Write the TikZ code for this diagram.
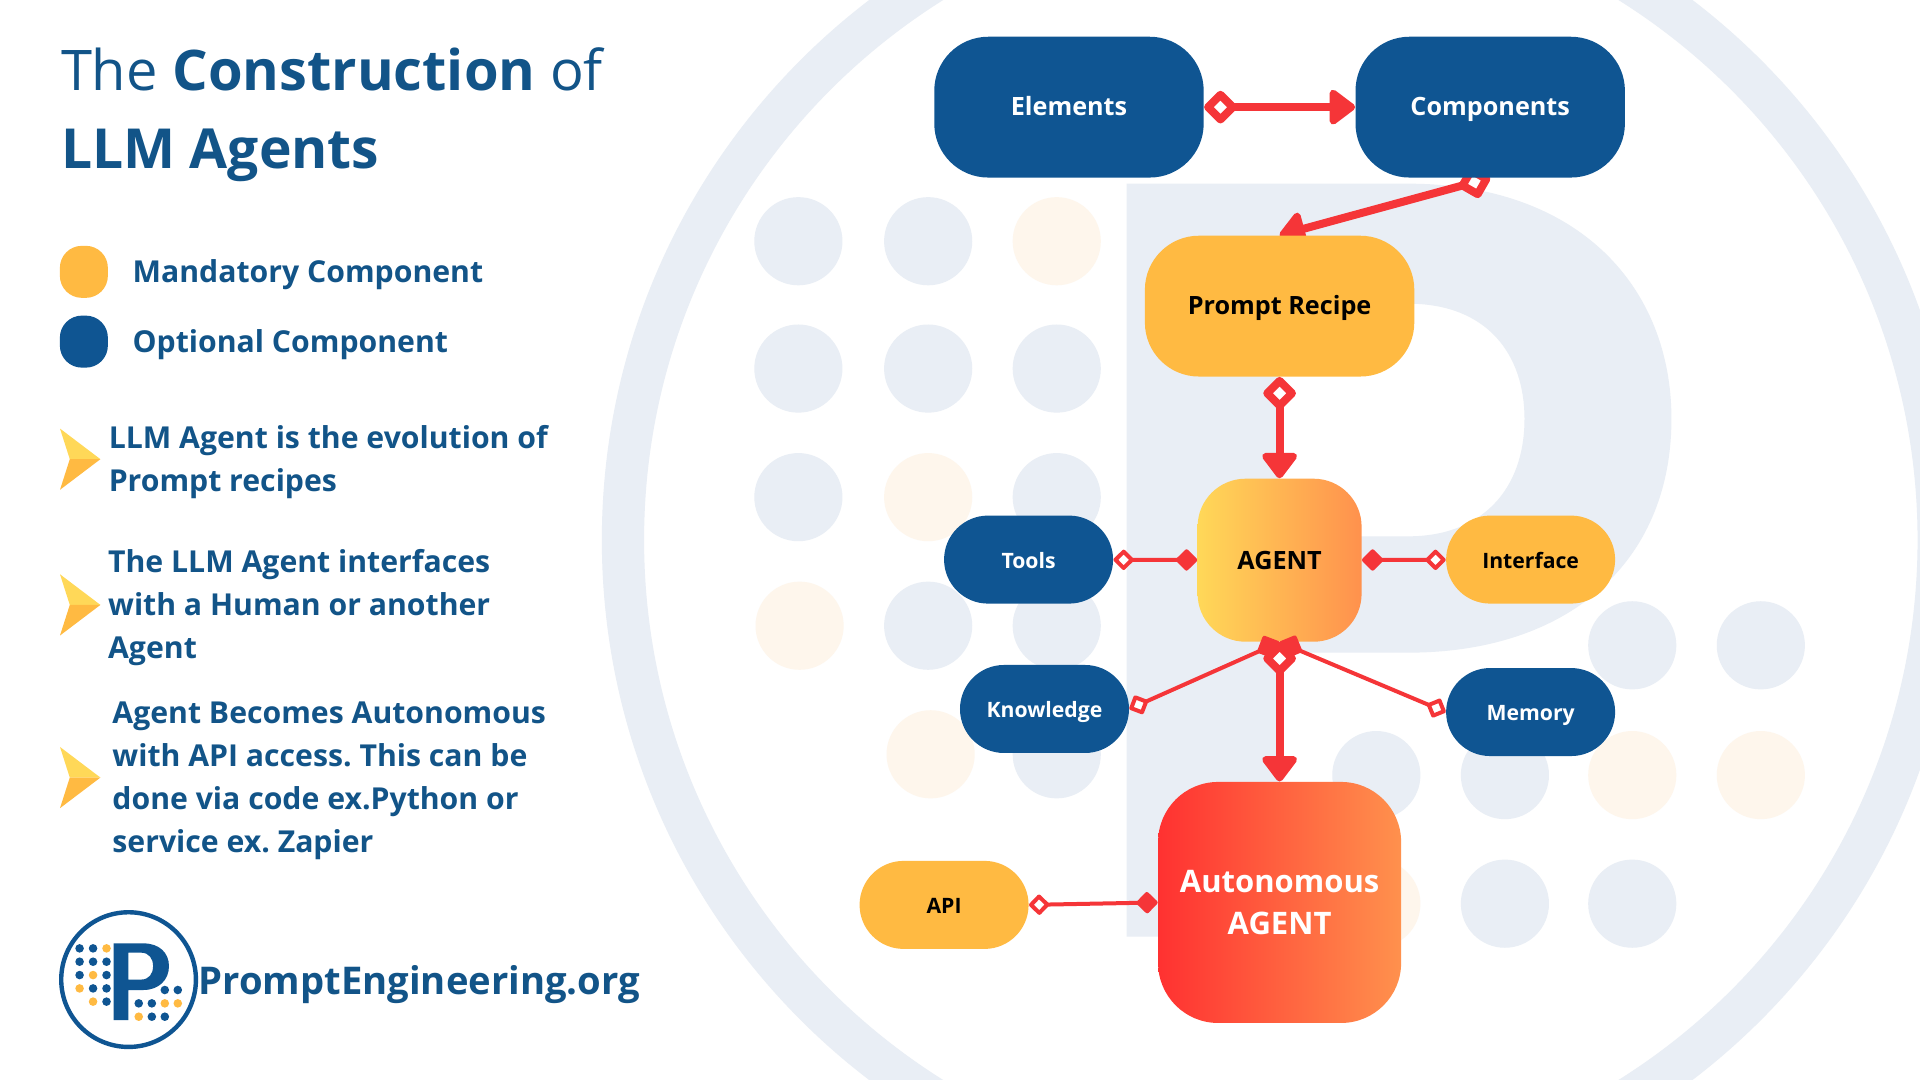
\documentclass[tikz,border=0pt]{standalone}
\usepackage{fontspec}
\setmainfont{Open Sans}
\usetikzlibrary{arrows.meta,calc}
\frenchspacing
\definecolor{navy}{HTML}{0F5592}
\definecolor{inkblue}{HTML}{125488}
\definecolor{amber}{HTML}{FFBA42}
\definecolor{sun}{HTML}{FFD858}
\definecolor{tang}{HTML}{FF914D}
\definecolor{flame}{HTML}{FF3131}
\definecolor{linkred}{HTML}{F53538}
\definecolor{mist}{HTML}{E9EEF5}
\definecolor{cream}{HTML}{FEF6EC}
\pgfdeclarelayer{art}
\pgfdeclarelayer{behind}
\pgfsetlayers{art,behind,main}
\tikzset{
  x=0.6122pt,y=-0.6122pt,
  box/.style={rounded corners=#1,inner sep=0pt,font=\fontsize{12.6}{15}\selectfont\bfseries,align=center},
  oneline/.style={text height=11.4pt,text depth=2.6pt},
  bigbox/.style={box=27pt,oneline,minimum width=134.7pt,minimum height=70.4pt,fill=navy,text=white},
  pill/.style={box=22pt,oneline,minimum width=84.5pt,minimum height=44pt,font=\fontsize{10.6}{13}\selectfont\bfseries},
  optpill/.style={pill,fill=navy,text=white},
  manpill/.style={pill,fill=amber,text=black},
  heavy/.style={draw=linkred,line width=4pt},
  light/.style={draw=linkred,line width=2pt},
  hollowbig/.tip={Diamond[length=18pt,width=18pt,fill=white,round]},
  headbig/.tip={Triangle[length=14pt,width=20pt,round]},
  hollowsmall/.tip={Diamond[length=11pt,width=11pt,fill=white,round]},
  solidsmall/.tip={Diamond[length=11.5pt,width=11.5pt,round]},
  solidmid/.tip={Diamond[length=13pt,width=13pt,round]},
  lefttext/.style={anchor=base west,inner sep=0pt,text=inkblue,font=\fontsize{15.1}{21.4}\selectfont\bfseries,align=left},
  title/.style={anchor=base west,inner sep=0pt,text=inkblue,font=\fontsize{28}{33}\selectfont},
  bgdot/.style={fill=mist},
  bgwarm/.style={fill=cream},
  swatch/.style={inner sep=0pt,minimum width=24pt,minimum height=26pt,rounded corners=11pt},
}
\begin{document}
\begin{tikzpicture}
\useasboundingbox (0,0) rectangle (1568,882);
\begin{pgfonlayer}{art}
\fill[white] (0,0) rectangle (1568,882);
\begin{scope}
\clip (0,0) rectangle (1568,882);
% big ring
\fill[mist,even odd rule] (1046,441) circle (554.5) (1046,441) circle (520);
% big P
\fill[mist,even odd rule]
  (920,150) -- (1150,150) .. controls (1290,150) and (1365,235) .. (1365,342)
  .. controls (1365,460) and (1280,533) .. (1150,533) -- (1045,533) -- (1045,765) -- (920,765) -- cycle
  (1045,248) -- (1150,248) .. controls (1215,248) and (1245,290) .. (1245,342)
  .. controls (1245,400) and (1210,438) .. (1150,438) -- (1045,438) -- cycle;
% dot grid
\foreach \px/\py in {652/197,758/197,652/301,758/301,863/301,652/406,863/406,758/511,863/511,863/616,
  1333/527,1438/527,1124/633,1229/633,1229/738,1333/738}
  \fill[bgdot] (\px,\py) circle (36);
\foreach \px/\py in {863/197,758/406,653/511,760/616,1333/633,1438/633,1124/738}
  \fill[bgwarm] (\px,\py) circle (36);
\end{scope}
\end{pgfonlayer}

% title
\node[title] (t1) at (49.5,74) {The \textbf{Construction} of};
\node[title,font=\fontsize{27.6}{33}\selectfont] (t2) at (49.5,138) {\textbf{LLM Agents}};

% legend
\node[swatch,fill=amber] (sw1) at (68.5,222) {};
\node[swatch,fill=navy] (sw2) at (68.5,279) {};
\node[lefttext] (l1) at (108,231) {Mandatory Component};
\node[lefttext] (l2) at (108,288) {Optional Component};

% chevrons
\foreach \cy in {375,494,635}{
  \fill[sun] (49,\cy-25) -- (82,\cy) -- (57,\cy) -- cycle;
  \fill[amber] (49,\cy+25) -- (82,\cy) -- (57,\cy) -- cycle;
}
\node[lefttext] (p1) at (88.5,401) {LLM Agent is the evolution of\\Prompt recipes};
\node[lefttext] (p2) at (88,537.5) {The LLM Agent interfaces\\with a Human or another\\Agent};
\node[lefttext] (p3) at (91.5,696) {Agent Becomes Autonomous\\with API access. This can be\\done via code ex.Python or\\service ex. Zapier};

% logo
\draw[navy,line width=2.2pt,fill=white] (105,800) circle (55);
\fill[navy,even odd rule]
  (92.8,770.4) -- (117,770.4) .. controls (130,770.4) and (138,778) .. (138,789)
  .. controls (138,800) and (130,808.5) .. (117,808.5) -- (104.8,808.5) -- (104.8,833) -- (92.8,833) -- cycle
  (104.8,778) -- (115,778) .. controls (122,778) and (125,783) .. (125,789)
  .. controls (125,795) and (122,800) .. (115,800) -- (104.8,800) -- cycle;
\foreach \px/\py in {65/774.5,76/774.5,65/785.4,76/785.4,87/785.4,65/796.3,87/796.3,76/807.2,87/807.2,87/818,
  134.6/808.5,145.2/808.5,113.3/819.4,124/819.4,124/830.3,134.6/830.3}
  \fill[navy] (\px,\py) circle (3.5);
\foreach \px/\py in {87/774.5,76/796.3,65/807.2,76/818,134.6/819.4,145.2/819.4,113.3/830.3}
  \fill[amber] (\px,\py) circle (3.5);
\node[anchor=base west,inner sep=0pt,text=inkblue,font=\fontsize{19.1}{24}\selectfont\bfseries] (site) at (162,812) {PromptEngineering.org};

% diagram nodes
\node[bigbox] (el) at (873,87.5) {Elements};
\node[bigbox] (co) at (1217,87.5) {Components};
\node[box=27pt,oneline,minimum width=134.7pt,minimum height=70.4pt,fill=amber,text=black] (pr) at (1045,250) {Prompt Recipe};
\node[box=24pt,oneline,minimum width=82pt,minimum height=81.5pt,left color=sun,right color=tang,text=black] (ag) at (1045,457.5) {AGENT};
\node[optpill] (to) at (840,457) {Tools};
\node[manpill] (in) at (1250,457) {Interface};
\node[optpill] (kn) at (853,579) {Knowledge};
\node[optpill] (me) at (1250,581.5) {Memory};
\node[box=30pt,minimum width=121.5pt,minimum height=120.5pt,left color=flame,right color=tang,text=white,font=\fontsize{15.5}{21.4}\selectfont\bfseries] (au) at (1045,737) {Autonomous\\AGENT};
\node[manpill] (ap) at (771,739) {API};

% connectors
\begin{pgfonlayer}{behind}
\draw[heavy,{hollowbig}-{headbig}] (co.south) -- (pr.north);
\end{pgfonlayer}
\draw[heavy,{hollowbig}-{headbig}] (el) -- (co);
\draw[heavy,{hollowbig}-{headbig}] (pr) -- (ag);
\draw[light,{hollowsmall}-{solidsmall}] (to) -- (ag);
\draw[light,{solidsmall}-{hollowsmall}] (ag) -- (in);
\draw[light,{hollowsmall}-{solidmid}] (kn.east) -- (ag.south);
\draw[light,{hollowsmall}-{solidmid}] (me.west) -- (ag.south);
\draw[heavy,{hollowbig}-{headbig}] (ag) -- (au);
\draw[light,{hollowsmall}-{solidsmall}] (ap.east) -- (au.west |- 0,737);
\end{tikzpicture}
\end{document}
